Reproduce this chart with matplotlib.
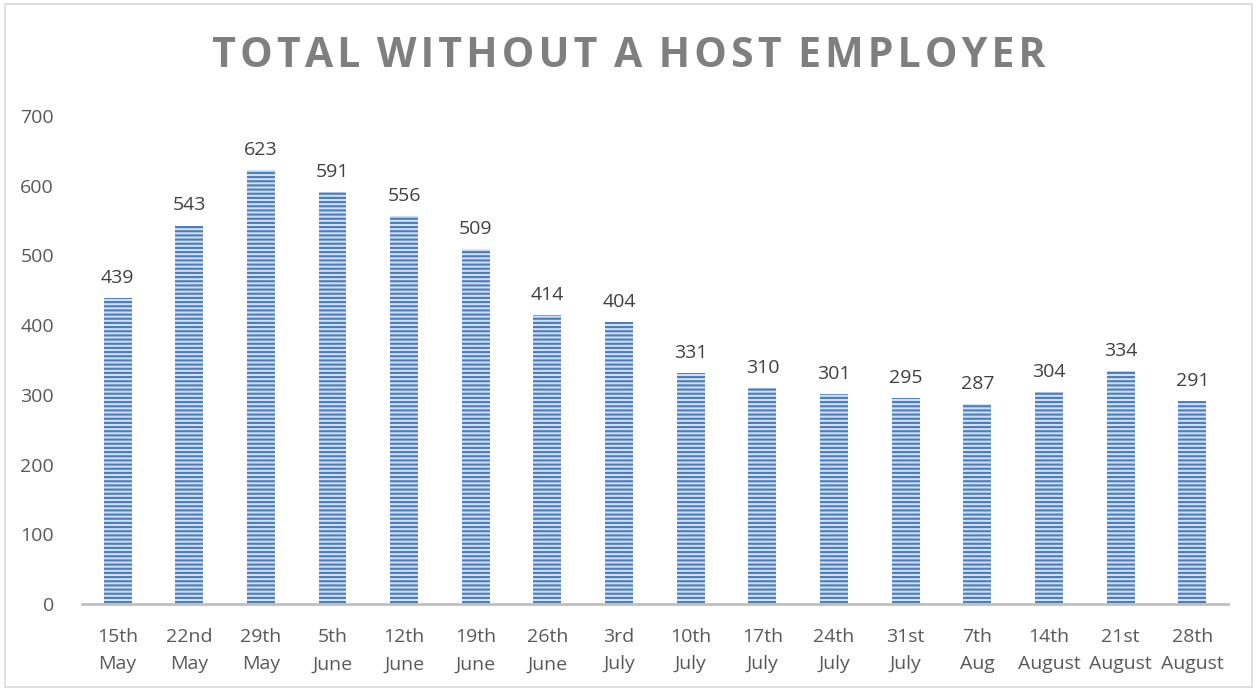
import matplotlib.pyplot as plt
from matplotlib.patches import Rectangle

weeks = ['15th\nMay', '22nd\nMay', '29th\nMay', '5th\nJune', '12th\nJune', '19th\nJune',
         '26th\nJune', '3rd\nJuly', '10th\nJuly', '17th\nJuly', '24th\nJuly', '31st\nJuly',
         '7th\nAug', '14th\nAugust', '21st\nAugust', '28th\nAugust']
totals = [439, 543, 623, 591, 556, 509, 414, 404, 331, 310, 301, 295, 287, 304, 334, 291]
yticks = [0, 100, 200, 300, 400, 500, 600, 700]

plt.rcParams['font.family'] = ['Open Sans', 'DejaVu Sans']
plt.rcParams['hatch.linewidth'] = 1.5

fig = plt.figure(figsize=(12.57, 6.91), dpi=100)
ax = fig.add_axes([0.065, 0.126, 0.912, 0.706])

x = range(len(weeks))
ax.bar(x, totals, width=0.39, color='#d2dff0', edgecolor='#4a7dbd', linewidth=0, hatch='----')

for i, v in enumerate(totals):
    ax.text(i, v + 16, str(v), ha='center', va='bottom', fontsize=14, color='#404040')

ax.set_xlim(-0.5, len(weeks) - 0.5)
ax.set_ylim(0, 700)
ax.set_yticks(yticks)
ax.set_xticks(list(x))
ax.set_xticklabels(weeks, fontsize=14, color='#595959', linespacing=1.7)
ax.tick_params(axis='y', labelsize=14, labelcolor='#595959', length=0, pad=20)
ax.tick_params(axis='x', length=0, pad=17)
for s in ['top', 'right', 'left']:
    ax.spines[s].set_visible(False)
ax.spines['bottom'].set_color('#bfbfbf')
ax.spines['bottom'].set_linewidth(2)

fig.text(0.5, 0.918, 'TOTAL WITHOUT A HOST EMPLOYER'.replace('', '\u200a').replace(' ', '\u2009'),
         ha='center', va='center', fontsize=29.5, fontweight='bold', color='#7f7f7f')

fig.patches.append(Rectangle((0.004, 0.006), 0.992, 0.988, transform=fig.transFigure,
                             fill=False, edgecolor='#d9d9d9', linewidth=1.2))

fig.savefig('out.png', dpi=100)
